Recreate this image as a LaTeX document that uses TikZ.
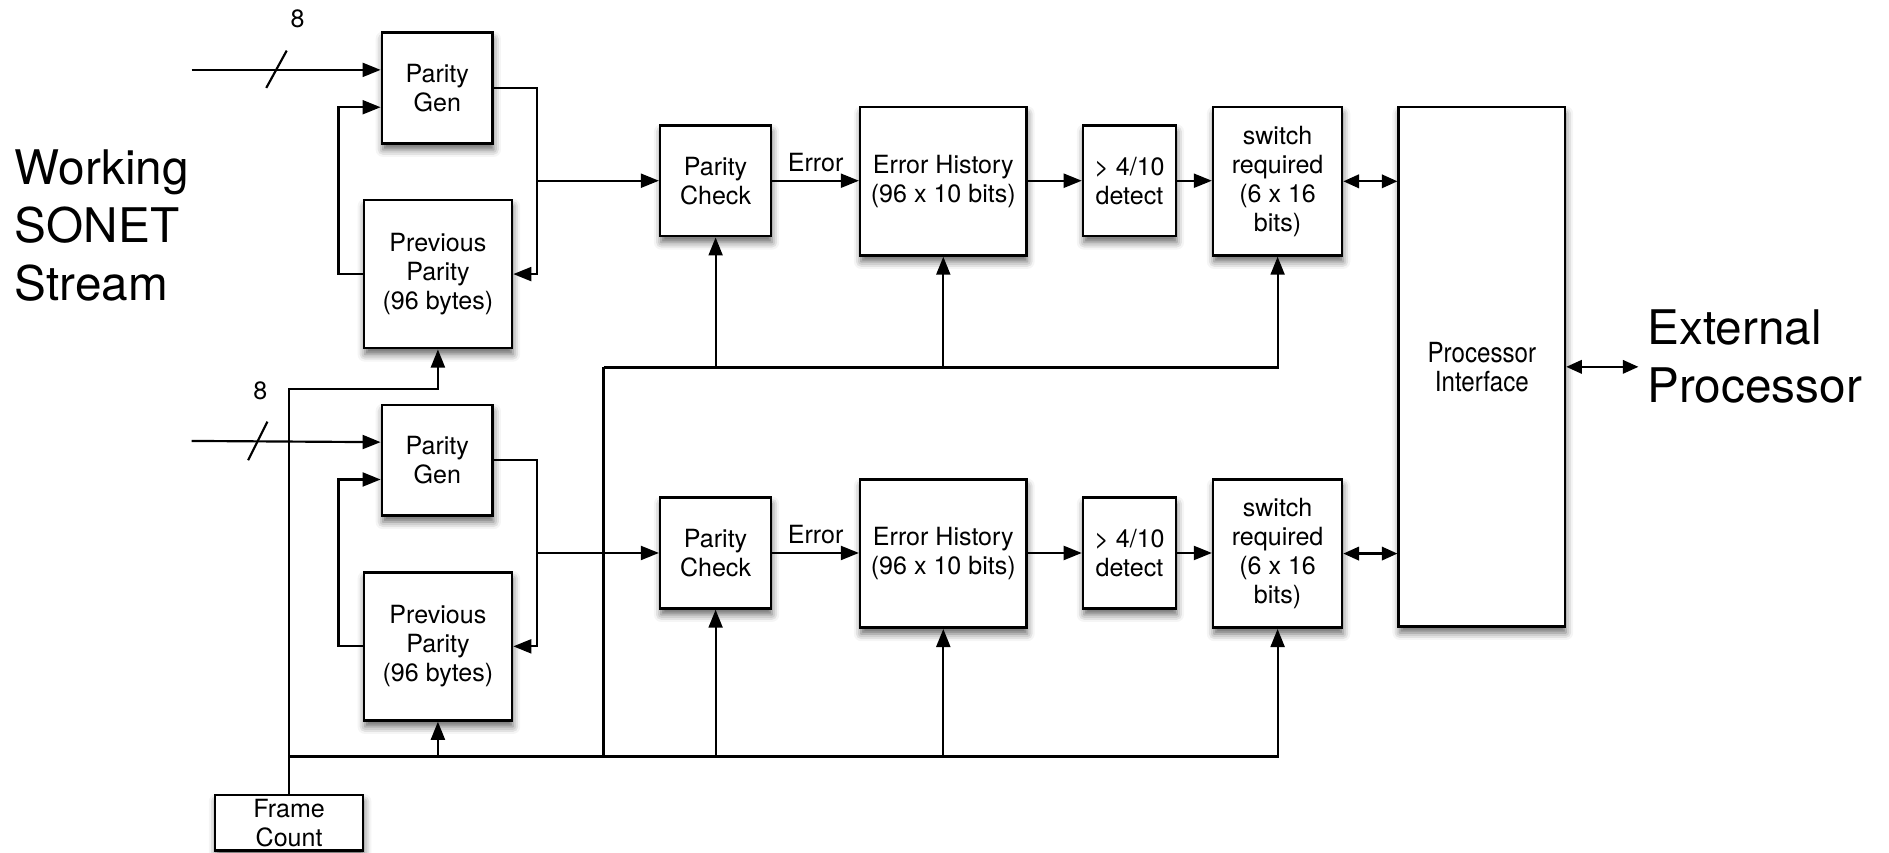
\documentclass[tikz,border=0pt]{standalone}
\usepackage{fontspec}
\setmainfont{TeX Gyre Heros}
\usetikzlibrary{arrows.meta,shadows.blur}

\begin{document}
\begin{tikzpicture}[x=0.5pt,y=-0.5pt,
  blk/.style={draw, line width=1.05pt, fill=white, align=center, inner sep=0pt,
    font=\fontsize{10.4}{12}\selectfont,
    blur shadow={shadow xshift=0.4pt, shadow yshift=-2.6pt, shadow blur radius=3pt, shadow opacity=60}},
  wire/.style={line width=0.9pt},
  arr/.style={wire, -{Triangle[length=7.5pt,width=5.8pt]}},
  darr/.style={wire, {Triangle[length=6.5pt,width=5.6pt]}-{Triangle[length=6.5pt,width=5.6pt]}},
  lbl/.style={font=\fontsize{10.4}{12}\selectfont, inner sep=0pt},
  big/.style={font=\fontsize{19.8}{24}\selectfont, align=left, inner sep=0pt}
]
\useasboundingbox (0,0) rectangle (1568,708);

% side titles
\node[big, anchor=west] (work) at (12,187) {Working\\SONET\\Stream};
\node[big, anchor=west] (ext) at (1367,296) {External\\Processor};

% ---- upper channel ----
\node[blk, minimum width=46pt, minimum height=46pt] (pg1) at (363,73) {Parity\\Gen};
\node[blk, minimum width=61.5pt, minimum height=61.5pt] (pp1) at (363.5,227.5) {Previous\\Parity\\(96 bytes)};
\node[blk, minimum width=46pt, minimum height=46pt] (pc1) at (594,150) {Parity\\Check};
\node[blk, minimum width=69pt, minimum height=61.5pt] (eh1) at (783,150.5) {Error History\\(96 x 10 bits)};
\node[blk, minimum width=38.5pt, minimum height=46pt] (dt1) at (937.5,150) {> 4/10\\detect};
\node[blk, minimum width=53.5pt, minimum height=61.5pt] (sw1) at (1060.5,150.5) {switch\\required\\(6 x 16\\bits)};

% ---- lower channel ----
\node[blk, minimum width=46pt, minimum height=46pt] (pg2) at (363,382) {Parity\\Gen};
\node[blk, minimum width=61.5pt, minimum height=61.5pt] (pp2) at (363.5,536.5) {Previous\\Parity\\(96 bytes)};
\node[blk, minimum width=46pt, minimum height=46pt] (pc2) at (594,459) {Parity\\Check};
\node[blk, minimum width=69pt, minimum height=61.5pt] (eh2) at (783,459.5) {Error History\\(96 x 10 bits)};
\node[blk, minimum width=38.5pt, minimum height=46pt] (dt2) at (937.5,459) {> 4/10\\detect};
\node[blk, minimum width=53.5pt, minimum height=61.5pt] (sw2) at (1060.5,459.5) {switch\\required\\(6 x 16\\bits)};

% shared blocks
\node[blk, minimum width=69pt, minimum height=215.5pt] (pi) at (1230,304.5) {};
\node[font=\fontsize{11.5}{12}\selectfont, align=center, xscale=0.87, inner sep=0pt] (pitext) at (pi.center) {Processor\\Interface};
\node[blk, minimum width=61.5pt, minimum height=23pt] (fc) at (240,683) {Frame\\Count};

% ---- inputs ----
\coordinate (in1) at (159,58);
\coordinate (in2) at (159,366);
\draw[arr] (in1) -- ([yshift=7.5pt]pg1.west);
\draw[arr] (in2) -- ([yshift=7.5pt]pg2.west);
\draw[wire] (221,73) -- (238,42);
\draw[wire] (206,382) -- (222,350);
\node[lbl] (w1) at (247,16) {8};
\node[lbl] (w2) at (216,324) {8};

% ---- upper channel wiring ----
\draw[arr] (pp1.west) -- ++(-20,0) |- ([yshift=-8pt]pg1.west);
\draw[arr] (pg1.east) -- ++(36,0) |- (pp1.east);
\coordinate (j1) at (445,150);
\draw[arr] (j1) -- (pc1.west);
\draw[arr] (pc1.east) -- (pc1.east -| eh1.west);
\node[lbl] (err1) at (677,135) {Error};
\draw[arr] (dt1.west -| eh1.east) -- (dt1.west);
\draw[arr] (dt1.east) -- (dt1.east -| sw1.west);
\draw[darr] (sw1.east) -- (sw1.east -| pi.west);

% ---- lower channel wiring ----
\draw[arr] (pp2.west) -- ++(-20,0) |- ([yshift=-8pt]pg2.west);
\draw[arr] (pg2.east) -- ++(36,0) |- (pp2.east);
\coordinate (j2) at (445,459);
\draw[arr] (j2) -- (pc2.west);
\draw[arr] (pc2.east) -- (pc2.east -| eh2.west);
\node[lbl] (err2) at (677,444) {Error};
\draw[arr] (dt2.west -| eh2.east) -- (dt2.west);
\draw[arr] (dt2.east) -- (dt2.east -| sw2.west);
\draw[darr] (sw2.east) -- (sw2.east -| pi.west);

% ---- external link ----
\draw[darr] (pi.east) -- ([xshift=-3.5pt]pi.east -| ext.west);

% ---- frame count distribution ----
\coordinate (b1) at (501,305);
\coordinate (b2) at (240,628);
\draw[arr] (fc.north) -- ++(0,-336) -| (pp1.south);
\draw[wire] (b1) -- (b1 |- b2);
\draw[arr] (b1) -| (sw1.south);
\draw[arr] (b1 -| pc1.south) -- (pc1.south);
\draw[arr] (b1 -| eh1.south) -- (eh1.south);
\draw[arr] (b2) -| (sw2.south);
\draw[arr] (b2 -| pp2.south) -- (pp2.south);
\draw[arr] (b2 -| pc2.south) -- (pc2.south);
\draw[arr] (b2 -| eh2.south) -- (eh2.south);
\end{tikzpicture}
\end{document}
